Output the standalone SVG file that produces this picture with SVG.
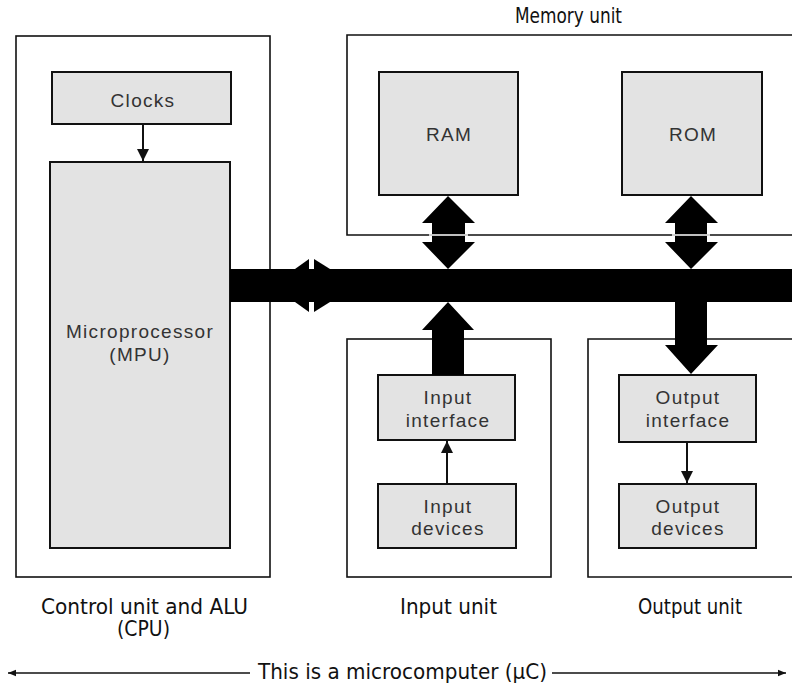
<svg xmlns="http://www.w3.org/2000/svg" width="792" height="685" viewBox="0 0 792 685">
<defs>
<marker id="ah" viewBox="0 0 10 10" refX="10" refY="5" markerWidth="15" markerHeight="12" markerUnits="userSpaceOnUse" orient="auto"><path d="M0,0 L10,5 L0,10 Z" fill="#111"/></marker>
<marker id="ahs" viewBox="0 0 10 10" refX="10" refY="5" markerWidth="12" markerHeight="8" markerUnits="userSpaceOnUse" orient="auto"><path d="M0,1 L10,5 L0,9 Z" fill="#111"/></marker>
<style>
.outer{fill:none;stroke:#111;stroke-width:1.6}
.inner{fill:#e3e3e3;stroke:#111;stroke-width:2}
.lbl{font-family:"Liberation Sans",Arial,sans-serif;font-size:19px;letter-spacing:1.3px;fill:#333;text-anchor:middle}
.cap{font-family:"Liberation Sans Narrow","DejaVu Sans Condensed","Liberation Sans",sans-serif;font-size:21px;fill:#111}
.thin{stroke:#111;stroke-width:2;fill:none}
.bus{fill:#000}
</style>
</defs>
<rect width="792" height="685" fill="#fff"/>

<g id="cpu-unit">
<rect class="outer" x="16" y="36" width="254" height="541"/>
<text class="cap" x="41" y="614" textLength="207" lengthAdjust="spacingAndGlyphs">Control unit and ALU</text>
<text class="cap" x="117" y="636" textLength="53" lengthAdjust="spacingAndGlyphs">(CPU)</text>
</g>
<g id="clocks">
<rect class="inner" x="52" y="72" width="179" height="52"/>
<text class="lbl" x="143" y="107">Clocks</text>
</g>
<g id="mpu">
<rect class="inner" x="50" y="162" width="180" height="386"/>
<text class="lbl" x="140" y="338">Microprocessor</text>
<text class="lbl" x="140" y="361">(MPU)</text>
</g>

<g id="memory-unit">
<path class="outer" d="M792,35 H347 V235 H792"/>
<text class="cap" x="515" y="23" textLength="107" lengthAdjust="spacingAndGlyphs">Memory unit</text>
</g>
<g id="ram">
<rect class="inner" x="379" y="72" width="139" height="123"/>
<text class="lbl" x="449" y="141">RAM</text>
</g>
<g id="rom">
<rect class="inner" x="622" y="72" width="140" height="123"/>
<text class="lbl" x="693" y="141">ROM</text>
</g>

<g id="input-unit">
<rect class="outer" x="347" y="339" width="204" height="238"/>
<text class="cap" x="400" y="614" textLength="97" lengthAdjust="spacingAndGlyphs">Input unit</text>
</g>
<g id="input-interface">
<rect class="inner" x="378" y="375" width="137" height="65"/>
<text class="lbl" x="448" y="404">Input</text>
<text class="lbl" x="448" y="427">interface</text>
</g>
<g id="input-devices">
<rect class="inner" x="378" y="484" width="138" height="64"/>
<text class="lbl" x="448" y="513">Input</text>
<text class="lbl" x="448" y="535">devices</text>
</g>

<g id="output-unit">
<path class="outer" d="M792,339 H588 V577 H792"/>
<text class="cap" x="638" y="614" textLength="104" lengthAdjust="spacingAndGlyphs">Output unit</text>
</g>
<g id="output-interface">
<rect class="inner" x="619" y="375" width="137" height="67"/>
<text class="lbl" x="688" y="404">Output</text>
<text class="lbl" x="688" y="427">interface</text>
</g>
<g id="output-devices">
<rect class="inner" x="619" y="484" width="137" height="64"/>
<text class="lbl" x="688" y="513">Output</text>
<text class="lbl" x="688" y="535">devices</text>
</g>

<g id="connectors">
<rect class="bus" x="230" y="269" width="562" height="33"/>
<polygon class="bus" points="295,269 309,259 309,269"/>
<polygon class="bus" points="295,302 309,312 309,302"/>
<polygon class="bus" points="314,259 330,269 314,269"/>
<polygon class="bus" points="314,312 330,302 314,302"/>
<polygon class="bus" points="448,196 475,223 465,223 465,242 475,242 448,269 422,242 432,242 432,223 422,223"/>
<line x1="429" y1="235" x2="468" y2="235" stroke="#fff" stroke-width="1.5"/>
<polygon class="bus" points="691,196 718,223 707,223 707,242 718,242 691,269 665,242 675,242 675,223 665,223"/>
<line x1="672" y1="235" x2="710" y2="235" stroke="#fff" stroke-width="1.5"/>
<polygon class="bus" points="448,302 474,330 464,330 464,375 432,375 432,330 422,330"/>
<polygon class="bus" points="675,302 707,302 707,345 718,345 691,374 665,345 675,345"/>
<line class="thin" x1="143" y1="124" x2="143" y2="161" marker-end="url(#ah)"/>
<line class="thin" x1="447" y1="484" x2="447" y2="441" marker-end="url(#ah)"/>
<line class="thin" x1="687" y1="442" x2="687" y2="483" marker-end="url(#ah)"/>
<line x1="250" y1="673" x2="8" y2="673" stroke="#111" stroke-width="1.6" marker-end="url(#ahs)"/>
<line x1="552" y1="673" x2="786" y2="673" stroke="#111" stroke-width="1.6" marker-end="url(#ahs)"/>
</g>
<text class="cap" x="258" y="679" textLength="289" lengthAdjust="spacingAndGlyphs">This is a microcomputer (μC)</text>
</svg>
